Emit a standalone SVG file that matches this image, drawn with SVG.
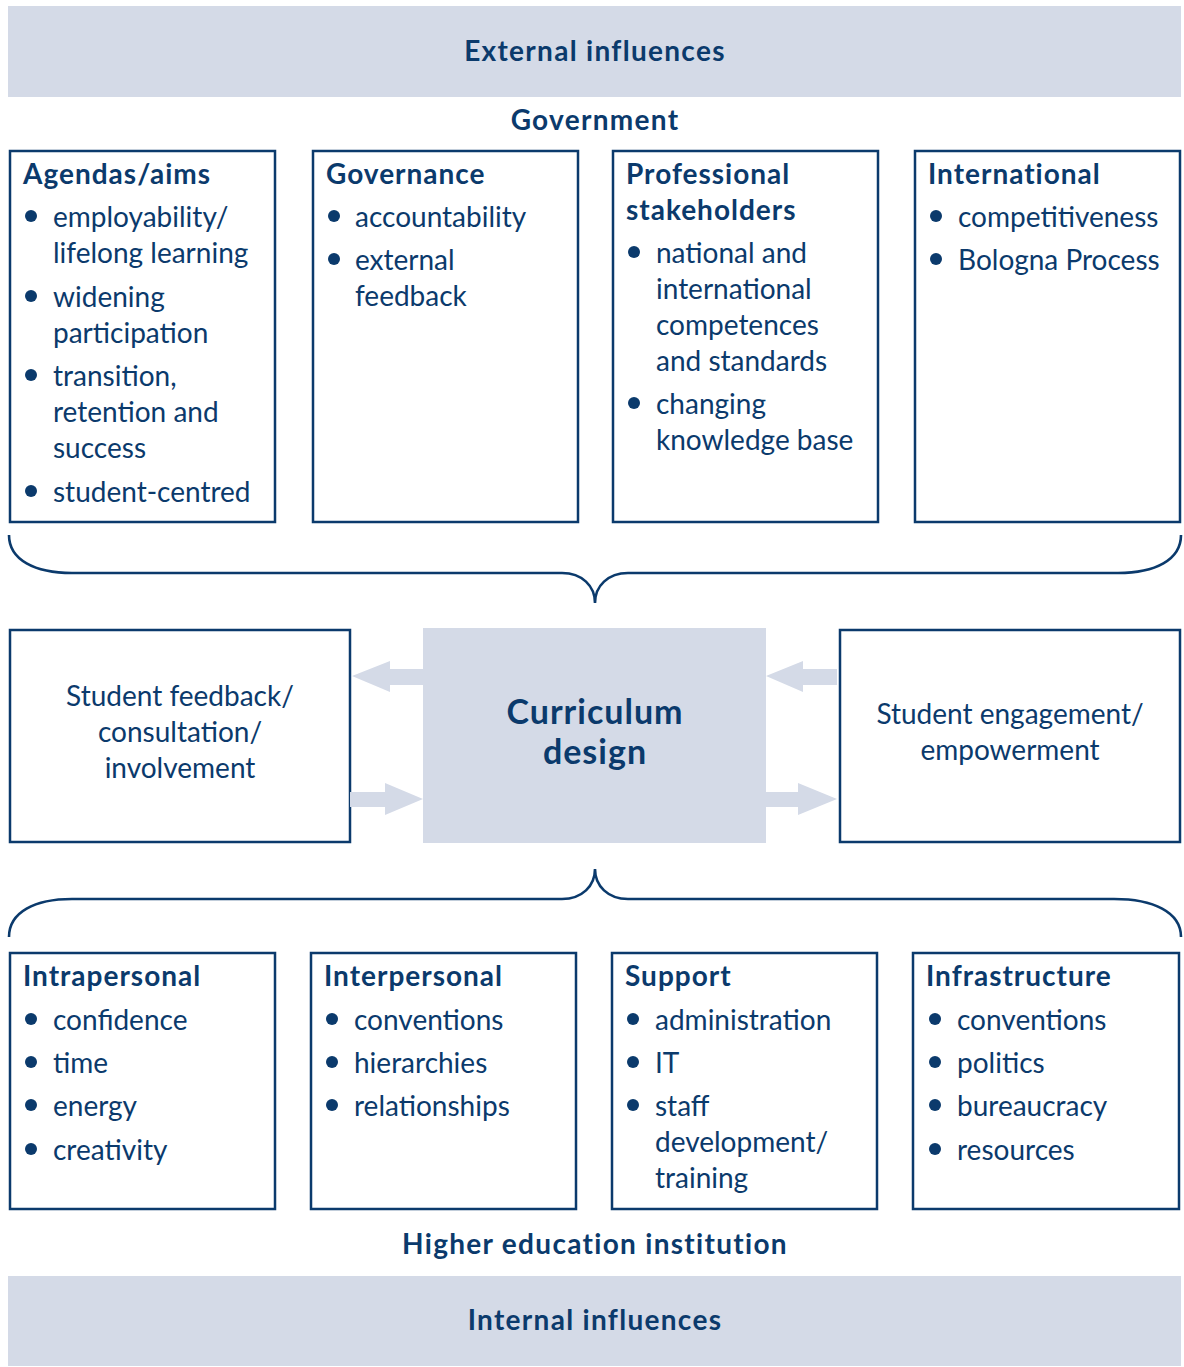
<svg xmlns="http://www.w3.org/2000/svg" width="1184" height="1367" viewBox="0 0 1184 1367">
<defs>
<style>
text{font-family:Lato,"Liberation Sans",sans-serif;fill:#0b3a6c;font-size:28px}
.b{font-weight:bold;letter-spacing:1px}
.h{letter-spacing:1.3px}
.c{text-anchor:middle}
.box{fill:#fff;stroke:#0b3a6c;stroke-width:2.5}
.band{fill:#d4dae7}
.dot{fill:#0b3a6c}
.arr{fill:#d4dae7}
.brace{fill:none;stroke:#0b3a6c;stroke-width:2.6}
</style>
</defs>
<rect width="1184" height="1367" fill="#fff"/>

<g id="external">
<rect class="band" x="8" y="6" width="1173" height="91"/>
<text class="b c h" x="595" y="61">External influences</text>
</g>
<text class="b c h" x="595" y="130">Government</text>

<g id="agendas">
<rect class="box" x="10" y="151" width="265" height="371"/>
<text class="b" x="23" y="184">Agendas/aims</text>
<circle class="dot" cx="31" cy="216" r="6"/>
<text x="53" y="227">employability/</text>
<text x="53" y="263">lifelong learning</text>
<circle class="dot" cx="31" cy="296" r="6"/>
<text x="53" y="307">widening</text>
<text x="53" y="343">participation</text>
<circle class="dot" cx="31" cy="375" r="6"/>
<text x="53" y="386">transition,</text>
<text x="53" y="422">retention and</text>
<text x="53" y="458">success</text>
<circle class="dot" cx="31" cy="491" r="6"/>
<text x="53" y="502">student-centred</text>
</g>

<g id="governance">
<rect class="box" x="313" y="151" width="265" height="371"/>
<text class="b" x="326" y="184">Governance</text>
<circle class="dot" cx="334" cy="216" r="6"/>
<text x="355" y="227">accountability</text>
<circle class="dot" cx="334" cy="259" r="6"/>
<text x="355" y="270">external</text>
<text x="355" y="306">feedback</text>
</g>

<g id="professional">
<rect class="box" x="613" y="151" width="265" height="371"/>
<text class="b" x="626" y="184">Professional</text>
<text class="b" x="626" y="220">stakeholders</text>
<circle class="dot" cx="634" cy="252" r="6"/>
<text x="656" y="263">national and</text>
<text x="656" y="299">international</text>
<text x="656" y="335">competences</text>
<text x="656" y="371">and standards</text>
<circle class="dot" cx="634" cy="403" r="6"/>
<text x="656" y="414">changing</text>
<text x="656" y="450">knowledge base</text>
</g>

<g id="international">
<rect class="box" x="915" y="151" width="265" height="371"/>
<text class="b" x="928" y="184">International</text>
<circle class="dot" cx="936" cy="216" r="6"/>
<text x="958" y="227">competitiveness</text>
<circle class="dot" cx="936" cy="259" r="6"/>
<text x="958" y="270">Bologna Process</text>
</g>

<g id="feedback">
<rect class="box" x="10" y="630" width="340" height="212"/>
<text class="c" x="180" y="706">Student feedback/</text>
<text class="c" x="180" y="742">consultation/</text>
<text class="c" x="180" y="778">involvement</text>
</g>

<g id="curriculum">
<rect class="band" x="423" y="628" width="343" height="215"/>
<text class="b c" x="595" y="724" style="font-size:34px">Curriculum</text>
<text class="b c" x="595" y="764" style="font-size:34px">design</text>
</g>

<g id="engagement">
<rect class="box" x="840" y="630" width="340" height="212"/>
<text class="c" x="1010" y="724">Student engagement/</text>
<text class="c" x="1010" y="760">empowerment</text>
</g>

<g id="connectors">
<path class="brace" d="M9,535 C9,560 35,573 72,573 L562,573 C582,573 595,586 595,603 C595,586 608,573 628,573 L1118,573 C1155,573 1181,560 1181,535"/>
<path class="brace" d="M9,937 C9,912 35,899 72,899 L562,899 C582,899 595,886 595,869 C595,886 608,899 628,899 L1114,899 C1153,899 1181,912 1181,937"/>
<polygon class="arr" points="423,669 390,669 390,661 352,676 390,692 390,685 423,685"/>
<polygon class="arr" points="350,792 385,792 385,783 423,799 385,815 385,807 350,807"/>
<polygon class="arr" points="837,669 803,669 803,661 766,676 803,692 803,685 837,685"/>
<polygon class="arr" points="766,792 798,792 798,783 837,799 798,815 798,807 766,807"/>
</g>

<g id="intrapersonal">
<rect class="box" x="10" y="953" width="265" height="256"/>
<text class="b" x="23" y="986">Intrapersonal</text>
<circle class="dot" cx="31" cy="1019" r="6"/>
<text x="53" y="1030">confidence</text>
<circle class="dot" cx="31" cy="1062" r="6"/>
<text x="53" y="1073">time</text>
<circle class="dot" cx="31" cy="1105" r="6"/>
<text x="53" y="1116">energy</text>
<circle class="dot" cx="31" cy="1149" r="6"/>
<text x="53" y="1160">creativity</text>
</g>

<g id="interpersonal">
<rect class="box" x="311" y="953" width="265" height="256"/>
<text class="b" x="324" y="986">Interpersonal</text>
<circle class="dot" cx="332" cy="1019" r="6"/>
<text x="354" y="1030">conventions</text>
<circle class="dot" cx="332" cy="1062" r="6"/>
<text x="354" y="1073">hierarchies</text>
<circle class="dot" cx="332" cy="1105" r="6"/>
<text x="354" y="1116">relationships</text>
</g>

<g id="support">
<rect class="box" x="612" y="953" width="265" height="256"/>
<text class="b" x="625" y="986">Support</text>
<circle class="dot" cx="633" cy="1019" r="6"/>
<text x="655" y="1030">administration</text>
<circle class="dot" cx="633" cy="1062" r="6"/>
<text x="655" y="1073">IT</text>
<circle class="dot" cx="633" cy="1105" r="6"/>
<text x="655" y="1116">staff</text>
<text x="655" y="1152">development/</text>
<text x="655" y="1188">training</text>
</g>

<g id="infrastructure">
<rect class="box" x="913" y="953" width="266" height="256"/>
<text class="b" x="926" y="986">Infrastructure</text>
<circle class="dot" cx="935" cy="1019" r="6"/>
<text x="957" y="1030">conventions</text>
<circle class="dot" cx="935" cy="1062" r="6"/>
<text x="957" y="1073">politics</text>
<circle class="dot" cx="935" cy="1105" r="6"/>
<text x="957" y="1116">bureaucracy</text>
<circle class="dot" cx="935" cy="1149" r="6"/>
<text x="957" y="1160">resources</text>
</g>

<text class="b c h" x="595" y="1254">Higher education institution</text>
<g id="internal">
<rect class="band" x="8" y="1276" width="1173" height="90"/>
<text class="b c h" x="595" y="1330">Internal influences</text>
</g>
</svg>
